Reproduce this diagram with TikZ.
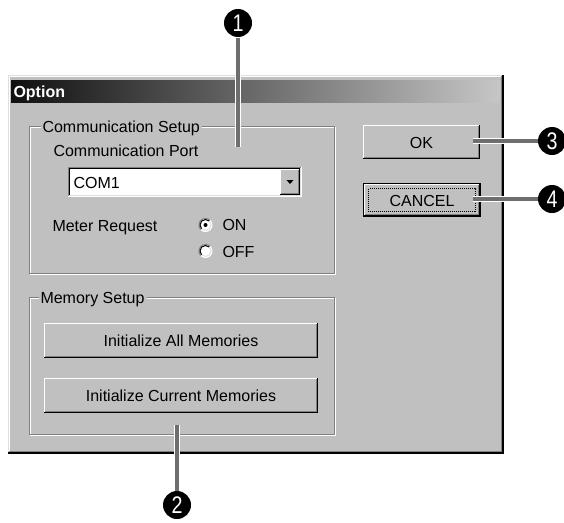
\documentclass[tikz,border=0pt]{standalone}
\usepackage{fontspec}
\setmainfont{Liberation Sans}
\definecolor{winface}{HTML}{C0C0C0}
\definecolor{darkedge}{HTML}{808080}
\definecolor{lightedge}{HTML}{DFDFDF}
\definecolor{leadgray}{HTML}{6E6E6E}
\definecolor{titledark}{HTML}{101010}
\definecolor{titlelight}{HTML}{C6C6C6}
\newcommand\uifont{\fontsize{16}{19}\selectfont}
% raised 3D box: x1 y1 x2 y2 (pixels, y down)
\newcommand\raisedbox[4]{%
  \fill[winface] (#1,#2) rectangle (#3,#4);
  \draw[white] (#1+.5,#4-1) -- (#1+.5,#2+.5) -- (#3-1,#2+.5);
  \draw[black] (#1,#4-.5) -- (#3-.5,#4-.5) -- (#3-.5,#2);
  \draw[darkedge] (#1+1,#4-1.5) -- (#3-1.5,#4-1.5) -- (#3-1.5,#2+1);
}
% etched group frame
\newcommand\groove[4]{%
  \draw[white] (#1+1.5,#2+1.5) rectangle (#3-.5,#4-.5);
  \draw[darkedge] (#1+.5,#2+.5) rectangle (#3-1.5,#4-1.5);
}
% radio button
\newcommand\radiobtn[2]{%
  \fill[white] (#1,#2) circle[radius=6.5];
  \draw[darkedge] (#1,#2) ++(135:6.5) arc[start angle=135,end angle=315,radius=6.5];
  \draw[white] (#1,#2) ++(315:6.5) arc[start angle=315,end angle=495,radius=6.5];
  \draw[black] (#1,#2) ++(135:5.5) arc[start angle=135,end angle=315,radius=5.5];
  \draw[lightedge] (#1,#2) ++(315:5.5) arc[start angle=315,end angle=495,radius=5.5];
}
\tikzset{
  uitext/.style={font=\uifont, inner sep=0pt, text=black},
  grouplabel/.style={font=\uifont, inner xsep=2pt, inner ysep=1pt, fill=winface, text=black},
  callout/.style={circle, fill=black, text=white, minimum size=28pt, inner sep=0pt,
    font=\fontsize{24}{24}\selectfont},
  leaderedge/.style={line width=5.5pt, draw=white},
  leader/.style={line width=3.5pt, draw=leadgray},
}
\begin{document}
\begin{tikzpicture}[x=1pt,y=-1pt,line width=1pt]
\useasboundingbox (0,0) rectangle (564,522);
\fill[white] (0,0) rectangle (564,522);

% ---- window frame ----
\fill[winface] (8,75) rectangle (504,454);
\draw[lightedge] (8.5,453) -- (8.5,75.5) -- (503,75.5);
\draw[white] (9.5,452) -- (9.5,76.5) -- (502,76.5);
\draw[black, line width=2pt] (8,453) -- (503,453) -- (503,75);
\draw[darkedge] (9,451.5) -- (501.5,451.5) -- (501.5,76);

% ---- title bar ----
\shade[left color=titledark, right color=titlelight] (11,80) rectangle (500,102);
\node[font=\uifont\bfseries, text=white, inner sep=0pt, anchor=base west] (title) at (13,97) {Option};

% ---- Communication Setup group ----
\groove{29}{126}{336}{275}
\node[grouplabel, anchor=base west] (lcs) at (40,132) {Communication Setup};
\node[uitext, anchor=base west] (lport) at (53,156) {Communication Port};

% combo box
\fill[white] (68,167) rectangle (302,197);
\draw[darkedge] (68.5,196) -- (68.5,167.5) -- (301,167.5);
\draw[black] (69.5,195) -- (69.5,168.5) -- (300,168.5);
\draw[white] (68,196.5) -- (301.5,196.5) -- (301.5,167);
\draw[lightedge] (69,195.5) -- (300.5,195.5) -- (300.5,168);
\node[uitext, anchor=base west] (com) at (73,188) {COM1};
\raisedbox{280}{169}{300}{195}
\fill[black] (286.5,180) -- (293.5,180) -- (290,184) -- cycle;

% meter request
\node[uitext, anchor=base west] (lmeter) at (52,231) {Meter Request};
\radiobtn{205.5}{225}
\fill[black] (205.5,225) circle[radius=2];
\node[uitext, anchor=base west] (lon) at (222,230) {ON};
\radiobtn{205.5}{251}
\node[uitext, anchor=base west] (loff) at (222,257) {OFF};

% ---- Memory Setup group ----
\groove{29}{297}{336}{436}
\node[grouplabel, anchor=base west] (lms) at (38,303) {Memory Setup};
\raisedbox{44}{323}{318}{358}
\node[uitext, anchor=base] (ball) at (181,346) {Initialize All Memories};
\raisedbox{44}{378}{318}{413}
\node[uitext, anchor=base] (bcur) at (181,401) {Initialize Current Memories};

% ---- OK / CANCEL ----
\raisedbox{363}{125}{480}{159}
\node[uitext, anchor=base] (ok) at (421.5,148) {OK};
\draw[black] (363.5,183.5) rectangle (480.5,216.5);
\raisedbox{364}{184}{480}{216}
\draw[black, line width=1pt, dash pattern=on 1pt off 1pt] (368.5,188.5) rectangle (475.5,211.5);
\node[uitext, anchor=base] (cancel) at (422,206) {CANCEL};

% ---- callouts ----
\node[callout] (c1) at (238,23) {\scalebox{.82}[1]{1}};
\node[callout] (c2) at (177,505) {\scalebox{.82}[1]{2}};
\node[callout] (c3) at (552,141) {\scalebox{.82}[1]{3}};
\node[callout] (c4) at (552,199) {\scalebox{.82}[1]{4}};
\coordinate (e1) at (238,147);
\coordinate (e2) at (177,425);
\coordinate (e3) at (473,141);
\coordinate (e4) at (473,199);
\foreach \c/\e in {c1/e1,c2/e2,c3/e3,c4/e4}{
  \draw[leaderedge] (\c) -- (\e);
  \draw[leader] (\c) -- (\e);
}
\end{tikzpicture}
\end{document}
